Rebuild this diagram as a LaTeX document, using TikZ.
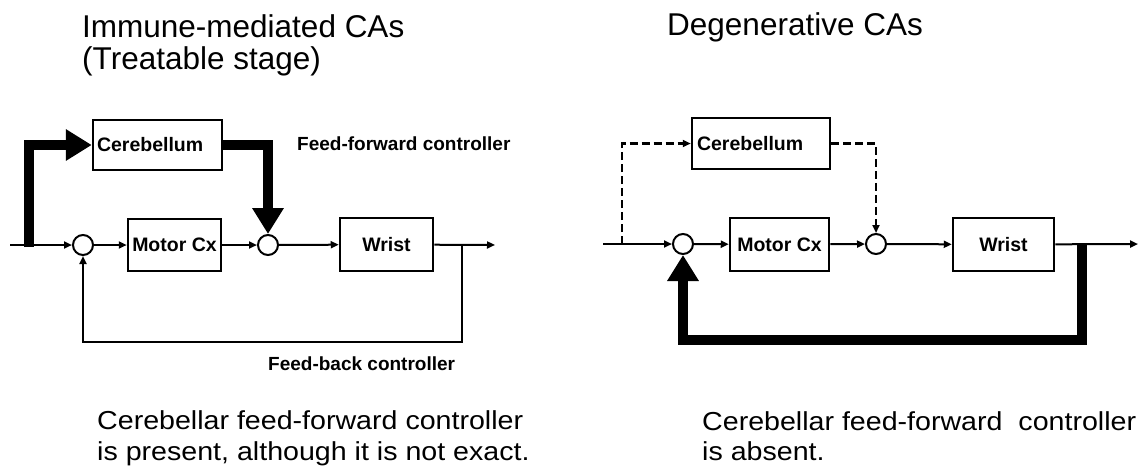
\documentclass[tikz,border=0pt]{standalone}
\usepackage{fontspec}
\setmainfont{Liberation Sans}
\newfontfamily\titlefont{Liberation Sans}
\newfontfamily\bodyfont[FakeStretch=1.1]{Liberation Sans}
\usetikzlibrary{arrows.meta}
\begin{document}
\begin{tikzpicture}[x=1pt,y=-1pt,
  thinln/.style={line width=2pt},
  arr/.style={thinln,-{Triangle[length=8pt,width=7pt]}},
  dashln/.style={arr,line width=2.3pt,dash pattern=on 8pt off 4pt},
  thickln/.style={line width=10pt,line join=miter,-{Triangle[length=26pt,width=30pt]}},
  blk/.style={draw,line width=2.5pt,inner sep=0pt,font=\fontsize{19.5}{22}\bfseries\selectfont},
  sumc/.style={draw,circle,thinln,fill=white,minimum size=20pt,inner sep=0pt},
  lbl/.style={anchor=base west,inner sep=0pt,font=\fontsize{19}{22}\bfseries\selectfont},
  ttl/.style={anchor=base west,inner sep=0pt,font=\titlefont\fontsize{31.5}{36}\selectfont},
  captxt/.style={anchor=base west,inner sep=0pt,font=\bodyfont\fontsize{26}{30}\selectfont}
]
\path[use as bounding box] (0,0) rectangle (1138,469);

% titles
\node[ttl] (t1) at (82,37) {Immune-mediated CAs};
\node[ttl] (t2) at (82,69) {(Treatable stage)};
\node[ttl] (t3) at (667,35) {Degenerative CAs};

% ---------- left panel ----------
\node[blk,minimum width=129pt,minimum height=50pt,text width=121pt,align=left] (Lcer) at (157.5,145) {Cerebellum};
\node[blk,minimum width=93pt,minimum height=52pt] (Lmot) at (174.5,245) {Motor Cx};
\node[blk,minimum width=93pt,minimum height=53pt] (Lwr) at (386.5,244.5) {Wrist};
\node[sumc] (Lc1) at (83,245) {};
\node[sumc] (Lc2) at (268,245) {};
\coordinate (Lin) at (10,245);
\coordinate (Lbr) at (29,247);
\coordinate (Lfb) at (462,245);
\coordinate (Lout) at (495,245);

\draw[arr] (Lin) -- (Lc1);
\draw[arr] (Lc1) -- (Lmot);
\draw[arr] (Lmot) -- (Lc2);
\draw[arr] (Lc2) -- (Lwr);
\draw[arr] (Lwr) -- (Lout);
\draw[arr] (Lfb) -- ++(0,97) -| (Lc1);
\draw[thickln] (Lbr) |- (Lcer);
\draw[thickln] (Lcer.east) -| (Lc2);

\node[lbl] (Lff) at (297,150) {Feed-forward controller};
\node[lbl] (Lfbl) at (268,370) {Feed-back controller};

\node[captxt] (Lcap1) at (97,429) {Cerebellar feed-forward controller};
\node[captxt] (Lcap2) at (97,460) {is present, although it is not exact.};

% ---------- right panel ----------
\node[blk,minimum width=138pt,minimum height=51pt,text width=128pt,align=left] (Rcer) at (761,143.5) {Cerebellum};
\node[blk,minimum width=99pt,minimum height=53pt] (Rmot) at (779.5,244.5) {Motor Cx};
\node[blk,minimum width=101pt,minimum height=53pt] (Rwr) at (1003.5,244.5) {Wrist};
\node[sumc] (Rc1) at (683,244) {};
\node[sumc] (Rc2) at (876,244) {};
\coordinate (Rin) at (603,244);
\coordinate (Rbr) at (622,244);
\coordinate (Rfb) at (1082,244);
\coordinate (Rout) at (1138,244);

\draw[arr] (Rin) -- (Rc1);
\draw[arr] (Rc1) -- (Rmot);
\draw[arr] (Rmot) -- (Rc2);
\draw[arr] (Rc2) -- (Rwr);
\draw[arr] (Rwr) -- (Rout);
\draw[dashln] (Rbr) |- (Rcer);
\draw[dashln] (Rcer.east) -| (Rc2);
\draw[thickln] (Rfb) -- ++(0,96) -| (Rc1);

\node[captxt] (Rcap1) at (702,430) {Cerebellar feed-forward\ \ controller};
\node[captxt] (Rcap2) at (702,460) {is absent.};
\end{tikzpicture}
\end{document}
